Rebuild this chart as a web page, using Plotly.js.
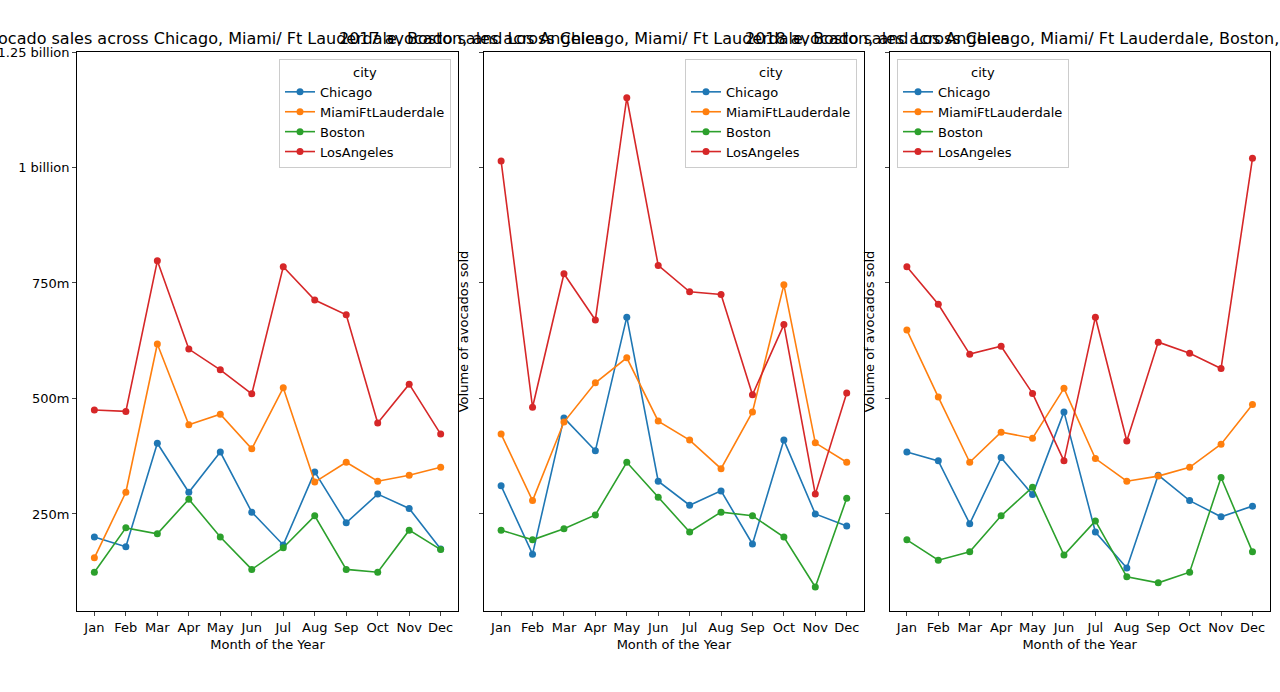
<!DOCTYPE html>
<html>
<head>
<script src="https://cdn.plot.ly/plotly-3.0.1.min.js"></script>
<style>body{margin:0}</style>
</head>
<body>
<div id="chart" style="width:1280px;height:692px"></div>
<script>
var months = ['Jan','Feb','Mar','Apr','May','Jun','Jul','Aug','Sep','Oct','Nov','Dec'];
var cities = ['Chicago','MiamiFtLauderdale','Boston','LosAngeles'];
var colors = ['#1f77b4','#ff7f0e','#2ca02c','#d62728'];
var years = ['2016','2017','2018'];

// values in millions of avocados
var chicago2016 = [200,179,403,297,384,254,183,341,231,293,262,174];
var miami2016   = [155,297,618,443,466,391,523,319,362,321,334,351];
var boston2016  = [124,220,207,282,200,130,177,246,130,124,215,173];
var la2016      = [475,472,798,607,562,510,785,713,681,447,531,423];

var chicago2017 = [311,163,458,387,676,321,269,300,185,410,250,224];
var miami2017   = [423,279,449,534,588,451,410,348,471,746,404,362];
var boston2017  = [215,194,218,248,362,286,211,254,246,200,92,284];
var la2017      = [1014,481,770,670,1151,788,731,725,508,660,293,512];

var chicago2018 = [384,365,229,372,292,471,211,133,334,279,244,267];
var miami2018   = [648,503,362,427,414,522,370,321,332,351,401,487];
var boston2018  = [194,150,168,246,308,161,235,114,101,124,329,168];
var la2018      = [785,704,596,613,511,365,676,408,622,598,565,1020];

var series = [
  [chicago2016, miami2016, boston2016, la2016],
  [chicago2017, miami2017, boston2017, la2017],
  [chicago2018, miami2018, boston2018, la2018]
];

var domains = [[0.0602,0.3578],[0.378,0.675],[0.695,0.992]];
var legendX = [451/1280, 857/1280, 897/1280];
var legendAnchor = ['right','right','left'];

var data = [];
var layout = {
  width:1280, height:692,
  margin:{l:0,r:0,t:52,b:81},
  paper_bgcolor:'white', plot_bgcolor:'white',
  font:{family:'DejaVu Sans', size:13, color:'#000'},
  annotations:[]
};

for (let p = 0; p < 3; p++) {
  let sfx = p == 0 ? '' : (p+1).toString();
  for (let c = 0; c < 4; c++) {
    data.push({
      x: months,
      y: series[p][c].map(v => v*1e6),
      name: cities[c],
      type: 'scatter',
      mode: 'lines+markers',
      line: {color: colors[c], width: 1.6},
      marker: {color: colors[c], size: 7},
      xaxis: 'x'+sfx, yaxis: 'y'+sfx,
      legend: 'legend'+sfx
    });
  }
  layout['xaxis'+sfx] = {
    domain: domains[p], anchor: 'y'+sfx,
    range: [-0.55, 11.55],
    showline:true, mirror:true, linecolor:'#000', linewidth:1,
    ticks:'outside', ticklen:4, showgrid:false, tickfont:{size:13},
    title:{text:'Month of the Year', font:{size:13}, standoff:6}
  };
  layout['yaxis'+sfx] = {
    anchor: 'x'+sfx,
    range: [40e6, 1250e6],
    tickvals: [250e6,500e6,750e6,1000e6,1250e6],
    ticktext: p == 0 ? ['250m','500m','750m','1 billion','1.25 billion'] : ['','','','',''],
    showline:true, mirror:true, linecolor:'#000', linewidth:1,
    ticks:'outside', ticklen:4, showgrid:false, zeroline:false, tickfont:{size:13},
    title: p == 0 ? {text:''} : {text:'Volume of avocados sold', font:{size:13}, standoff:4}
  };
  layout['legend'+sfx] = {
    x: legendX[p], xanchor: legendAnchor[p], y: 0.9875, yanchor:'top',
    xref:'paper', yref:'paper',
    title:{text:'city', side:'top center', font:{size:13}},
    bgcolor:'rgba(255,255,255,0.8)', bordercolor:'#ccc', borderwidth:1,
    font:{size:13}
  };
  layout.annotations.push({
    text: years[p]+' avocado sales across Chicago, Miami/ Ft Lauderdale, Boston, and Los Angeles',
    x: (domains[p][0]+domains[p][1])/2, xref:'paper', xanchor:'center',
    y: 1, yref:'paper', yanchor:'bottom', yshift:2,
    showarrow:false, font:{size:16}
  });
}

Plotly.newPlot('chart', data, layout, {displayModeBar:false});
</script>
</body>
</html>
